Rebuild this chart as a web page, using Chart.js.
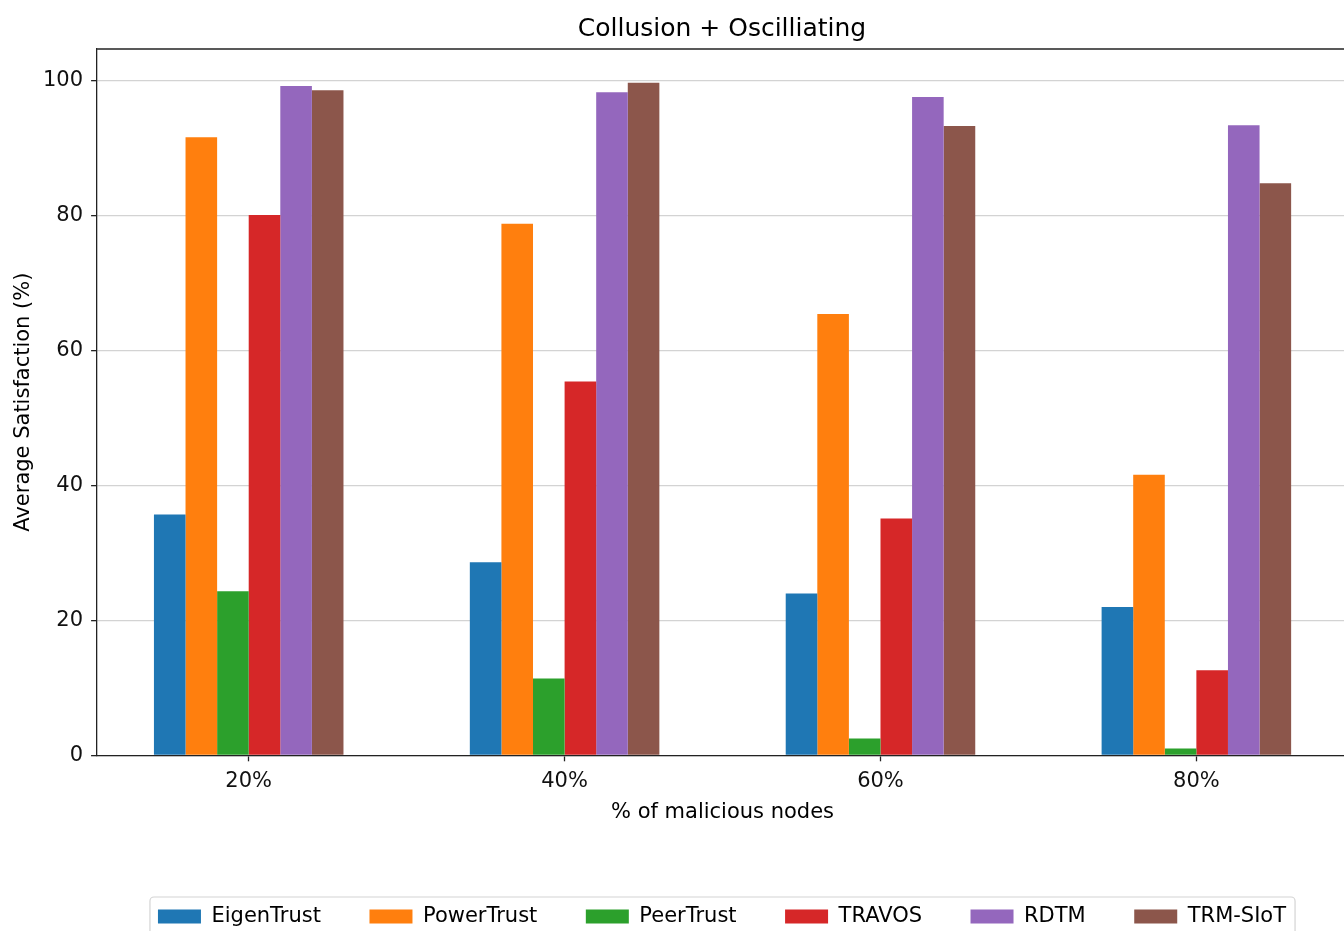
<!DOCTYPE html>
<html>
<head>
<meta charset="utf-8">
<title>Collusion + Oscilliating</title>
<script src="https://cdn.jsdelivr.net/npm/chart.js@4.4.1/dist/chart.umd.min.js"></script>
<style>
    html, body { margin: 0; padding: 0; overflow: hidden; background: #fff; }
    #chartSatisfaccion { position: absolute; left: 0; top: 0; }
</style>
</head>
<body>
<canvas id="chartSatisfaccion" width="1444" height="937"></canvas>
<script>
// --- DATA ---
const categories = ['20%', '40%', '60%', '80%'];
const eigenTrust = [35.7, 28.6, 24.0, 22.0];
const powerTrust = [91.6, 78.8, 65.4, 41.6];
const peerTrust  = [24.3, 11.4, 2.5, 1.0];
const travos     = [80.1, 55.4, 35.1, 12.6];
const rdtm       = [99.2, 98.3, 97.6, 93.4];
const trmSiot    = [98.6, 99.7, 93.3, 84.8];
const yTicks = [0, 20, 40, 60, 80, 100];

const series = [
    { label: 'EigenTrust', values: eigenTrust, color: '#1f77b4' },
    { label: 'PowerTrust', values: powerTrust, color: '#ff7f0e' },
    { label: 'PeerTrust',  values: peerTrust,  color: '#2ca02c' },
    { label: 'TRAVOS',     values: travos,     color: '#d62728' },
    { label: 'RDTM',       values: rdtm,       color: '#9467bd' },
    { label: 'TRM-SIoT',   values: trmSiot,    color: '#8c564b' }
];

Chart.defaults.font.family = "'DejaVu Sans', sans-serif";
Chart.defaults.color = '#111';

// --- PLUGINS: top spine + legend frame ---
const marcoPlugin = {
    id: 'marco',
    afterDatasetsDraw(chart) {
        const { ctx, chartArea } = chart;
        ctx.save();
        ctx.strokeStyle = '#222';
        ctx.lineWidth = 1.3;
        ctx.beginPath();
        ctx.moveTo(chartArea.left, chartArea.top);
        ctx.lineTo(chartArea.right, chartArea.top);
        ctx.stroke();
        ctx.restore();
    },
    afterDraw(chart) {
        const boxes = chart.legend && chart.legend.legendHitBoxes;
        if (!boxes || !boxes.length) return;
        const first = boxes[0];
        const last = boxes[boxes.length - 1];
        const x = first.left - 8;
        const y = first.top - 9;
        const w = last.left + last.width + 9 - x;
        const h = first.height + 20;
        const ctx = chart.ctx;
        ctx.save();
        ctx.strokeStyle = '#d4d4d4';
        ctx.lineWidth = 1.2;
        ctx.beginPath();
        ctx.roundRect(x, y, w, h, 4);
        ctx.stroke();
        ctx.restore();
    }
};

// --- CHART ---
new Chart(document.getElementById('chartSatisfaccion'), {
    type: 'bar',
    data: {
        datasets: series.map(s => ({
            label: s.label,
            data: s.values.map((v, i) => ({ x: i, y: v })),
            backgroundColor: s.color,
            borderWidth: 0,
            categoryPercentage: 0.6,
            barPercentage: 1.0
        }))
    },
    options: {
        responsive: false,
        animation: false,
        layout: { padding: 0 },
        plugins: {
            title: {
                display: true,
                text: 'Collusion + Oscilliating',
                color: '#000',
                font: { size: 25, weight: 'normal' },
                padding: { top: 14, bottom: 5 }
            },
            legend: {
                position: 'bottom',
                labels: {
                    boxWidth: 43,
                    boxHeight: 14,
                    padding: 48.5,
                    color: '#000',
                    font: { size: 21 }
                }
            },
            tooltip: { enabled: false }
        },
        scales: {
            x: {
                type: 'linear',
                min: -0.48,
                max: 3.48,
                offset: false,
                afterBuildTicks: axis => { axis.ticks = categories.map((c, i) => ({ value: i })); },
                ticks: {
                    callback: v => categories[v],
                    autoSkip: false,
                    maxRotation: 0,
                    padding: 8,
                    color: '#111',
                    font: { size: 21, lineHeight: 1.2 }
                },
                grid: { offset: false, drawOnChartArea: false, drawTicks: true, tickLength: 6, tickColor: '#222', tickWidth: 1.3 },
                border: { display: true, color: '#222', width: 1.3 },
                title: {
                    display: true,
                    text: '% of malicious nodes',
                    color: '#000',
                    font: { size: 21, lineHeight: 1.0 },
                    padding: { top: 0, bottom: 34 }
                }
            },
            y: {
                min: 0,
                max: 104.7,
                afterBuildTicks: axis => { axis.ticks = yTicks.map(v => ({ value: v })); },
                ticks: { padding: 8, color: '#111', font: { size: 21 } },
                grid: { color: '#d3d3d3', lineWidth: 1.3, drawTicks: true, tickLength: 6, tickColor: '#222', tickWidth: 1.3 },
                border: { display: true, color: '#222', width: 1.3 },
                title: {
                    display: true,
                    text: 'Average Satisfaction (%)',
                    color: '#000',
                    font: { size: 21, lineHeight: 1.0 },
                    padding: { top: 13, bottom: 1 }
                }
            },
            // spacer on the right: the figure is cut at the window edge
            y2: {
                position: 'right',
                display: true,
                grid: { display: false, drawTicks: false },
                border: { display: false },
                ticks: { display: false },
                afterFit: axis => { axis.width = 96; }
            }
        }
    },
    plugins: [marcoPlugin]
});
</script>
</body>
</html>
